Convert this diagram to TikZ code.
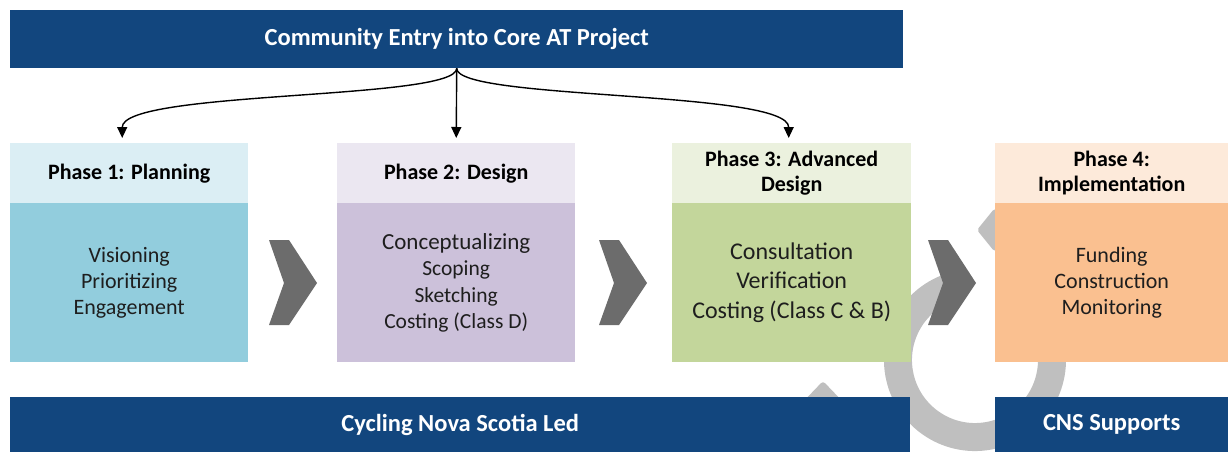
\documentclass[tikz,border=0pt]{standalone}
\usepackage{fontspec}
\setmainfont{Carlito}
\usetikzlibrary{arrows.meta,calc}

\definecolor{barblue}{RGB}{18,70,126}
\definecolor{ringgray}{RGB}{191,191,191}
\definecolor{chevgray}{RGB}{108,108,108}
\definecolor{bodytext}{RGB}{30,30,30}
\definecolor{ph1h}{RGB}{219,238,244}
\definecolor{ph1b}{RGB}{146,205,221}
\definecolor{ph2h}{RGB}{235,231,241}
\definecolor{ph2b}{RGB}{204,193,218}
\definecolor{ph3h}{RGB}{235,241,222}
\definecolor{ph3b}{RGB}{195,214,155}
\definecolor{ph4h}{RGB}{253,234,218}
\definecolor{ph4b}{RGB}{250,192,144}

\begin{document}
\begin{tikzpicture}[x=1pt,y=-1pt,
  bar/.style={anchor=north west, inner sep=0pt, fill=barblue, text=white,
    font=\bfseries\fontsize{24.5}{29}\selectfont},
  hdr/.style={anchor=north west, inner sep=0pt, minimum height=60pt,
    align=center, text=black, font=\bfseries\fontsize{22}{25}\selectfont},
  bodybox/.style={anchor=north west, inner sep=0pt, minimum height=159pt,
    align=center, text=bodytext},
  chev/.style={fill=chevgray},
  conn/.style={-{Triangle[length=11pt,width=10pt]}, line width=1.4pt, shorten >=5pt}
]
\useasboundingbox (0,0) rectangle (1230,452);

% background cycle ring
\draw[ringgray, line width=28pt] (961.6,284.2) arc[start angle=-100, end angle=-370, radius=77];
\fill[ringgray, rounded corners=2pt] (977,230) -- (994,209) -- (1010,209) -- (1010,252) -- (994,251) -- cycle;
\fill[ringgray, rounded corners=3pt] (800,405) -- (823,381) -- (846,405) -- cycle;

% top bar
\node[bar, minimum width=893pt, minimum height=58pt] (top) at (10,10) {Community Entry into Core AT Project};

% phase boxes
\node[hdr, minimum width=238pt, fill=ph1h] (p1h) at (10,143) {Phase 1: Planning};
\node[bodybox, minimum width=238pt, fill=ph1b, font=\fontsize{22}{26}\selectfont] (p1b) at (10,203)
  {Visioning\\Prioritizing\\Engagement};

\node[hdr, minimum width=238pt, fill=ph2h] (p2h) at (337,143) {Phase 2: Design};
\node[bodybox, minimum width=238pt, fill=ph2b, font=\fontsize{21.5}{26.5}\selectfont] (p2b) at (337,203)
  {{\fontsize{23}{27}\selectfont Conceptualizing}\\Scoping\\Sketching\\Costing (Class D)};

\node[hdr, minimum width=239pt, fill=ph3h] (p3h) at (672,143) {Phase 3: Advanced\\Design};
\node[bodybox, minimum width=239pt, fill=ph3b, font=\fontsize{24}{29.5}\selectfont] (p3b) at (672,203)
  {Consultation\\Verification\\Costing (Class C \& B)};

\node[hdr, minimum width=233pt, fill=ph4h] (p4h) at (995,143) {Phase 4:\\Implementation};
\node[bodybox, minimum width=233pt, fill=ph4b, font=\fontsize{22}{26}\selectfont] (p4b) at (995,203)
  {Funding\\Construction\\Monitoring};

% chevrons between phases
\foreach \cx in {269,599,928}{
  \fill[chev] (\cx,240) -- (\cx+20,240) -- (\cx+48,283) -- (\cx+20,325) -- (\cx,325) -- (\cx+15,283) -- cycle;
}

% bottom bars
\node[bar, minimum width=900pt, minimum height=55pt] (cyc) at (10,397) {Cycling Nova Scotia Led};
\node[bar, minimum width=233pt, minimum height=55pt] (cns) at (995,397) {CNS Supports};

% entry connectors
\draw[conn] (top.south) .. controls ($(top.south)+(0,32)$) and ($([xshift=-7pt]p1h.north)+(0,-53)$) .. ([xshift=-7pt]p1h.north);
\draw[conn] (top.south) -- (p2h.north);
\draw[conn] (top.south) .. controls ($(top.south)+(0,32)$) and ($([xshift=-3pt]p3h.north)+(0,-53)$) .. ([xshift=-3pt]p3h.north);
\end{tikzpicture}
\end{document}
